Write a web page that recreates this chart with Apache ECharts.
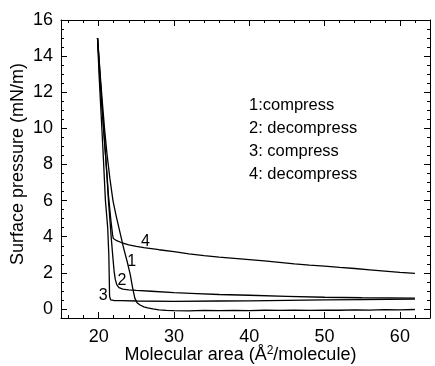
<!DOCTYPE html>
<html>
<head>
<meta charset="utf-8">
<script src="https://cdn.jsdelivr.net/npm/echarts@6/dist/echarts.min.js"></script>
<style>
  html, body { margin: 0; padding: 0; background: #fff; }
  #chart { width: 435px; height: 366px; }
</style>
</head>
<body>
<div id="chart"></div>
<script>
// Isotherm cycles: [molecular area (Å²/molecule), surface pressure (mN/m)]
const compress1 = [
  [62, -0.03], [60, -0.05], [58, -0.04], [56, -0.06], [54, -0.05], [52, -0.07],
  [50, -0.06], [48, -0.08], [46, -0.07], [44, -0.08], [42, -0.07], [40, -0.09],
  [38, -0.08], [36, -0.09], [34, -0.08], [32, -0.1], [30, -0.09], [29, -0.08],
  [28, -0.05], [27.2, 0], [26.5, 0.06], [26, 0.12], [25.5, 0.22], [25.1, 0.35],
  [24.8, 0.6], [24.5, 1.2], [24.2, 1.9], [23.8, 2.6], [23.3, 3.4], [22.8, 4.3],
  [22.3, 5.2], [21.9, 6.0], [21.5, 7.2], [21.1, 8.6], [20.8, 9.9], [20.5, 11.4],
  [20.2, 13], [20.0, 14.2], [19.85, 15]
];
const decompress2 = [
  [19.85, 15], [20.1, 13.5], [20.4, 11.5], [20.8, 9.2], [21.1, 7.4], [21.3, 6.0],
  [21.5, 4.9], [21.7, 3.8], [21.9, 2.8], [22.05, 2.1], [22.2, 1.65], [22.4, 1.35],
  [22.7, 1.18], [23.2, 1.1], [24, 1.06], [25, 1.03], [27, 0.98], [30, 0.9],
  [33, 0.85], [36, 0.8], [40, 0.76], [45, 0.7], [50, 0.65], [55, 0.62], [62, 0.6]
];
const compress3 = [
  [62, 0.54], [55, 0.52], [50, 0.5], [45, 0.48], [40, 0.45], [36, 0.44],
  [30, 0.42], [25, 0.44], [23, 0.46], [22, 0.47], [21.6, 0.5], [21.45, 0.7],
  [21.42, 1.5], [21.35, 3], [21.2, 4.5], [20.9, 6], [20.55, 9], [20.3, 11],
  [20.05, 13], [19.85, 15]
];
const decompress4 = [
  [19.85, 15], [20.1, 13.2], [20.5, 10.8], [20.9, 8.6], [21.3, 6.3], [21.6, 5.0],
  [21.85, 4.1], [21.95, 3.9], [22.4, 3.78], [23, 3.68], [24, 3.55], [25, 3.47],
  [26, 3.4], [28, 3.28], [30, 3.17], [32, 3.05], [34, 2.95], [36, 2.87],
  [38, 2.8], [40, 2.73], [42, 2.66], [44, 2.58], [46, 2.5], [48, 2.43],
  [50, 2.37], [52, 2.3], [54, 2.24], [56, 2.17], [58, 2.1], [60, 2.03], [62, 1.97]
];

const curveNames = ['1:compress', '2: decompress', '3: compress', '4: decompress'];
const curveTags = ['1', '2', '3', '4'];
// where each curve's number sits, in data units
const tagPositions = [[24.4, 2.6], [23.1, 1.55], [20.6, 0.75], [26.2, 3.75]];

const areaMajorTicks = [20, 30, 40, 50, 60];
const areaMinorTicks = [16, 18, 22, 24, 26, 28, 32, 34, 36, 38, 42, 44, 46, 48,
  52, 54, 56, 58, 62];
const pressureMajorTicks = [0, 2, 4, 6, 8, 10, 12, 14, 16];
const pressureMinorTicks = [0.5, 1, 1.5, 2.5, 3, 3.5, 4.5, 5, 5.5, 6.5, 7, 7.5,
  8.5, 9, 9.5, 10.5, 11, 11.5, 12.5, 13, 13.5, 14.5, 15, 15.5];

const FONT = "'Liberation Sans', Arial, sans-serif";
const X_MIN = 15, X_MAX = 64, Y_MIN = -0.5, Y_MAX = 16;
const gridRect = { left: 61, top: 20, right: 5, bottom: 48, outerBoundsMode: 'none', containLabel: false };

function xAxisDef(gridIndex, position, ticks, len, withLabels, withLine) {
  return {
    type: 'value', gridIndex, position, min: X_MIN, max: X_MAX,
    axisLine: { show: withLine, onZero: false, lineStyle: { color: '#000', width: 1 } },
    axisTick: { show: true, inside: true, length: len, customValues: ticks,
      lineStyle: { color: '#000', width: 1 } },
    axisLabel: withLabels
      ? { show: true, customValues: areaMajorTicks, color: '#000', fontSize: 18,
          fontFamily: FONT, margin: 10 }
      : { show: false },
    splitLine: { show: false }
  };
}
function yAxisDef(gridIndex, position, ticks, len, withLabels, withLine) {
  return {
    type: 'value', gridIndex, position, min: Y_MIN, max: Y_MAX,
    axisLine: { show: withLine, onZero: false, lineStyle: { color: '#000', width: 1 } },
    axisTick: { show: true, inside: true, length: len, customValues: ticks,
      lineStyle: { color: '#000', width: 1 } },
    axisLabel: withLabels
      ? { show: true, customValues: pressureMajorTicks, color: '#000', fontSize: 18,
          fontFamily: FONT, margin: 8 }
      : { show: false },
    splitLine: { show: false }
  };
}

const xMain = xAxisDef(0, 'bottom', areaMajorTicks, 6, true, true);
xMain.name = 'Molecular area (Å{sup|2}/molecule)';
xMain.nameLocation = 'middle';
xMain.nameGap = 27;
xMain.nameMoveOverlap = false;
xMain.nameTextStyle = {
  color: '#000', fontSize: 18, fontFamily: FONT, padding: [0, 10, 0, 0],
  rich: { sup: { fontSize: 12, fontFamily: FONT, color: '#000', padding: [0, 0, 9, 0] } }
};
const yMain = yAxisDef(0, 'left', pressureMajorTicks, 6, true, true);
yMain.name = 'Surface pressure (mN/m)';
yMain.nameLocation = 'middle';
yMain.nameGap = 34;
yMain.nameMoveOverlap = false;
yMain.nameTextStyle = { color: '#000', fontSize: 18, fontFamily: FONT, padding: [0, 0, 0, 10] };

const curves = [compress1, decompress2, compress3, decompress4];

const option = {
  animation: false,
  backgroundColor: '#fff',
  grid: [Object.assign({}, gridRect), Object.assign({}, gridRect)],
  legend: {
    orient: 'vertical', left: 239, top: 92, itemGap: 6,
    icon: 'none', itemWidth: 0, itemHeight: 0,
    selectedMode: false,
    textStyle: { color: '#000', fontSize: 16.5, fontFamily: FONT },
    data: curveNames
  },
  xAxis: [
    xMain,
    xAxisDef(0, 'top', areaMajorTicks, 6, false, true),
    xAxisDef(1, 'bottom', areaMinorTicks, 3, false, false),
    xAxisDef(1, 'top', areaMinorTicks, 3, false, false)
  ],
  yAxis: [
    yMain,
    yAxisDef(0, 'right', pressureMajorTicks, 6, false, true),
    yAxisDef(1, 'left', pressureMinorTicks, 3, false, false),
    yAxisDef(1, 'right', pressureMinorTicks, 3, false, false)
  ],
  series: curves.map((pts, i) => ({
    name: curveNames[i],
    type: 'line',
    xAxisIndex: 0,
    yAxisIndex: 0,
    data: pts,
    showSymbol: false,
    symbol: 'none',
    lineStyle: { color: '#000', width: 1.3 },
    itemStyle: { color: '#000' },
    markPoint: {
      symbol: 'circle', symbolSize: 0,
      label: { show: true, position: 'inside', formatter: curveTags[i],
        color: '#000', fontSize: 16, fontFamily: FONT },
      data: [{ coord: tagPositions[i] }]
    }
  }))
};

echarts.init(document.getElementById('chart'), null, { renderer: 'canvas' }).setOption(option);
</script>
</body>
</html>
